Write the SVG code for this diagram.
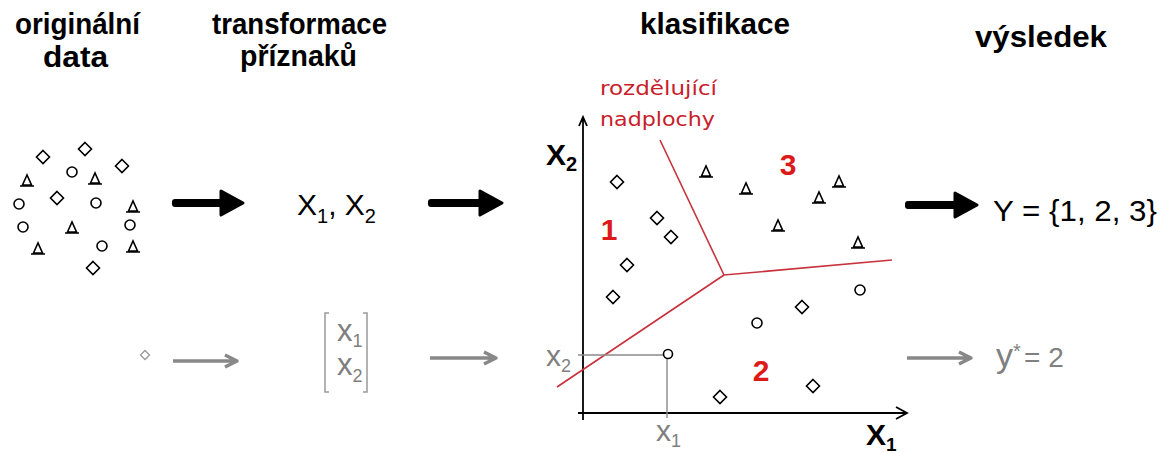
<svg xmlns="http://www.w3.org/2000/svg" xmlns:xlink="http://www.w3.org/1999/xlink" width="1162" height="453" viewBox="0 0 1162 453">
<style>
.hdr{font-family:"Liberation Sans",Arial,sans-serif;font-weight:bold;font-size:29px;fill:#000}
.blk{font-family:"Liberation Sans",Arial,sans-serif;font-size:30px;fill:#000}
.gry{font-family:"Liberation Sans",Arial,sans-serif;fill:#808080}
.rednum{font-family:"Liberation Sans",Arial,sans-serif;font-weight:bold;font-size:30px;fill:#dd1a1a;text-anchor:middle}
.redlbl{font-family:"DejaVu Sans",sans-serif;font-size:19px;fill:#c8202a}
.mk{fill:#fff;stroke:#000;stroke-width:1.6}
.hyp{fill:none;stroke:#c8323c;stroke-width:1.6}
.axis{fill:none;stroke:#000;stroke-width:1.8}
.gline{fill:none;stroke:#8a8a8a;stroke-width:1.4}
.thick{fill:#000;stroke:#000;stroke-width:3;stroke-linejoin:round}
.garr{fill:none;stroke:#888;stroke-width:3.5;stroke-linejoin:round}
</style>
<defs>
<path id="dia" class="mk" d="M0,-6.5 L6.5,0 L0,6.5 L-6.5,0 Z"/>
<circle id="cir" class="mk" r="5"/>
<path id="tri" class="mk" d="M-4.5,4 L0,-6 L4.5,4 Z M-7,5 H7" style="fill:none"/>
</defs>
<rect width="1162" height="453" fill="#fff"/>

<g id="original-data">
<text class="hdr" x="15" y="34" textLength="125" lengthAdjust="spacingAndGlyphs">originální</text>
<text class="hdr" x="43" y="67" textLength="65" lengthAdjust="spacingAndGlyphs">data</text>
<use href="#dia" x="43" y="157"/>
<use href="#dia" x="85" y="149"/>
<use href="#dia" x="122" y="166"/>
<use href="#cir" x="72" y="172"/>
<use href="#tri" x="27" y="181"/>
<use href="#tri" x="95" y="179"/>
<use href="#cir" x="19" y="204"/>
<use href="#dia" x="57" y="198"/>
<use href="#cir" x="96" y="203"/>
<use href="#tri" x="133" y="207"/>
<use href="#cir" x="23" y="227"/>
<use href="#tri" x="72" y="228"/>
<use href="#cir" x="130" y="225"/>
<use href="#tri" x="38" y="249"/>
<use href="#cir" x="102" y="246"/>
<use href="#tri" x="133" y="247"/>
<use href="#dia" x="93" y="268"/>
<path d="M145,350.5 L149.5,355 L145,359.5 L140.5,355 Z" fill="#fff" stroke="#999" stroke-width="1.3"/>
</g>

<g id="feature-transform">
<text class="hdr" x="212" y="34" textLength="175" lengthAdjust="spacingAndGlyphs">transformace</text>
<text class="hdr" x="240" y="66" textLength="117" lengthAdjust="spacingAndGlyphs">příznaků</text>
<text class="blk" x="297" y="215">X<tspan font-size="20" dy="8">1</tspan><tspan dy="-8">, X</tspan><tspan font-size="20" dy="8">2</tspan></text>
<path d="M329,313 H325 V392 H329 M363,313 H367 V392 H363" fill="none" stroke="#999" stroke-width="1.5"/>
<text class="gry" x="337" y="341" font-size="31">x<tspan font-size="18" dy="6">1</tspan></text>
<text class="gry" x="337" y="375" font-size="31">x<tspan font-size="18" dy="7">2</tspan></text>
</g>

<g id="classification">
<text class="hdr" x="640" y="34" textLength="150" lengthAdjust="spacingAndGlyphs">klasifikace</text>
<text class="redlbl" x="600" y="95" textLength="117" lengthAdjust="spacingAndGlyphs">rozdělující</text>
<text class="redlbl" x="600" y="126" textLength="115" lengthAdjust="spacingAndGlyphs">nadplochy</text>
<path class="axis" d="M583,420 V118 M579,126 L583,117 L587,126"/>
<path class="axis" d="M578,413 H906 M896,407 L907,413 L896,419"/>
<text class="blk" x="546" y="165" font-weight="bold">X<tspan font-size="20" dy="6">2</tspan></text>
<text class="blk" x="866" y="445" font-weight="bold">X<tspan font-size="19" dy="6">1</tspan></text>
<path class="hyp" d="M660,140 L724,275 L892,260 M724,275 L557,387"/>
<text class="rednum" x="609" y="240">1</text>
<text class="rednum" x="788" y="175">3</text>
<text class="rednum" x="761" y="381">2</text>
<use href="#dia" x="617" y="182"/>
<use href="#dia" x="657" y="218"/>
<use href="#dia" x="671" y="237"/>
<use href="#dia" x="627" y="265"/>
<use href="#dia" x="613" y="297"/>
<use href="#tri" x="706" y="172"/>
<use href="#tri" x="746" y="189"/>
<use href="#tri" x="839" y="182"/>
<use href="#tri" x="819" y="198"/>
<use href="#tri" x="778" y="226"/>
<use href="#tri" x="858" y="243"/>
<use href="#cir" x="860" y="290"/>
<use href="#dia" x="802" y="307"/>
<use href="#cir" x="757" y="323"/>
<use href="#dia" x="720" y="397"/>
<use href="#dia" x="813" y="386"/>
<path class="gline" d="M578,355 H664 M667,358 V418"/>
<circle class="mk" cx="668" cy="354" r="4.5"/>
<text class="gry" x="546" y="366" font-size="30">x<tspan font-size="18" dy="6">2</tspan></text>
<text class="gry" x="656" y="441" font-size="30">x<tspan font-size="18" dy="6">1</tspan></text>
</g>

<g id="result">
<text class="hdr" x="975" y="47" textLength="132" lengthAdjust="spacingAndGlyphs">výsledek</text>
<text class="blk" x="993" y="221" font-size="33" textLength="164" lengthAdjust="spacingAndGlyphs">Y = {1, 2, 3}</text>
<text class="gry" x="996" y="367" font-size="34">y<tspan x="1013" dy="-9" font-size="20">*</tspan><tspan x="1024" dy="9" font-size="28">= 2</tspan></text>
</g>

<g id="connectors">
<rect x="172" y="199" width="54" height="8" rx="3"/>
<path class="thick" d="M221,191 L243,203 L221,215 Z"/>
<rect x="428" y="199" width="56" height="8" rx="3"/>
<path class="thick" d="M480,191 L502,203 L480,215 Z"/>
<rect x="905" y="201" width="55" height="8" rx="3"/>
<path class="thick" d="M955,193 L977,205 L955,217 Z"/>
<path class="garr" d="M173,361 H236 M225,355 L237,361 L225,367"/>
<path class="garr" d="M430,358 H495 M484,352 L496,358 L484,364"/>
<path class="garr" d="M907,358 H970 M959,352 L971,358 L959,364"/>
</g>
</svg>
